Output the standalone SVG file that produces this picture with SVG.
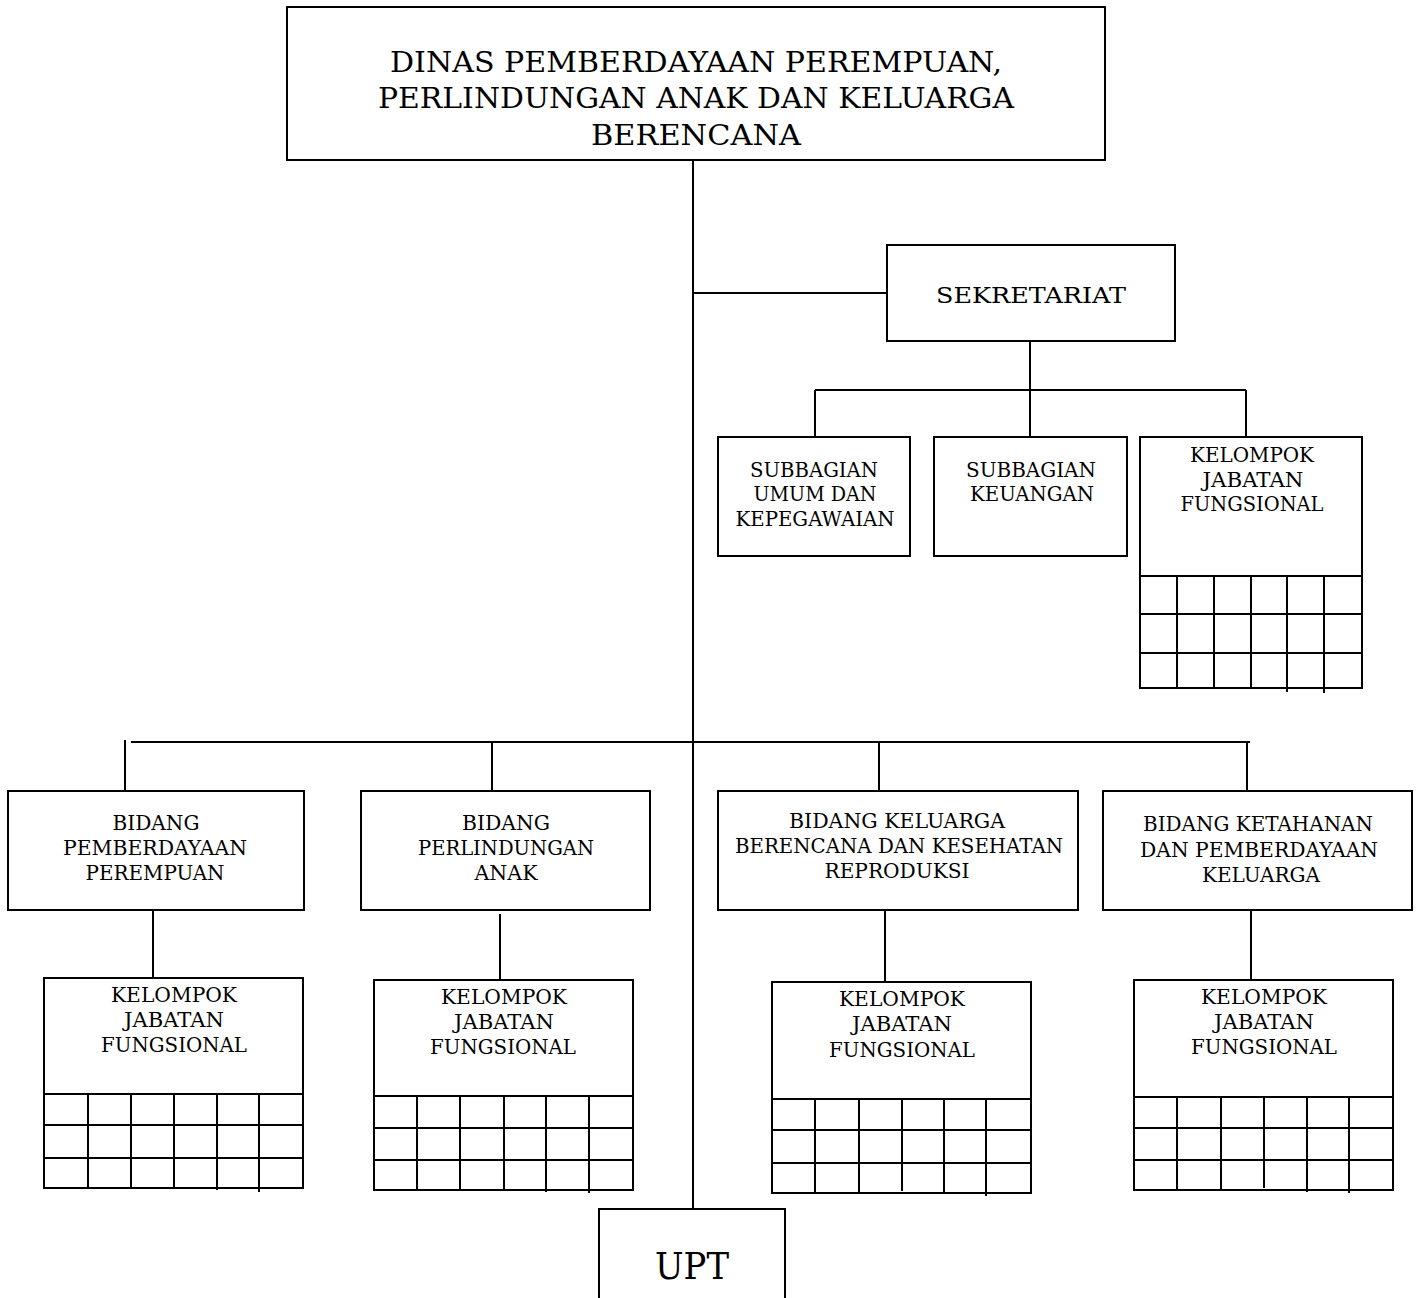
<svg xmlns="http://www.w3.org/2000/svg" width="1426" height="1298" viewBox="0 0 1426 1298">
  <style>
    .box { fill: #fff; stroke: #000; stroke-width: 2; }
    .ln { fill: none; stroke: #000; stroke-width: 2; }
    .grid { fill: none; stroke: #000; stroke-width: 2; }
    text { font-family: "DejaVu Serif", "Liberation Serif", serif; fill: #000; text-anchor: middle; }
    .t1 { font-size: 27px; }
    .t2 { font-size: 22px; }
    .t3 { font-size: 20px; }
    .t4 { font-size: 38px; }
  </style>
  <rect width="1426" height="1298" fill="#fff"/>

  <!-- connectors -->
  <g id="connectors" class="ln">
    <path d="M693 160 V1209"/>
    <path d="M693 293 H887"/>
    <path d="M1030 341 V390 M815 390 H1246 M815 390 V437 M1030 390 V437 M1246 390 V437"/>
    <path d="M131 742 H1250 M125 740 V791 M492 742 V791 M879 742 V791 M1247 742 V791"/>
    <path d="M153 910 V978 M500 914 V980 M885 910 V982 M1251 910 V980"/>
  </g>

  <!-- head office -->
  <g id="dinas">
    <rect class="box" x="287" y="7" width="818" height="153"/>
    <text class="t1" x="696" y="72" textLength="612" lengthAdjust="spacingAndGlyphs">DINAS PEMBERDAYAAN PEREMPUAN,</text>
    <text class="t1" x="696" y="108" textLength="636" lengthAdjust="spacingAndGlyphs">PERLINDUNGAN ANAK DAN KELUARGA</text>
    <text class="t1" x="696" y="145" textLength="210" lengthAdjust="spacingAndGlyphs">BERENCANA</text>
  </g>

  <g id="sekretariat">
    <rect class="box" x="887" y="245" width="288" height="96"/>
    <text class="t2" x="1031" y="303" textLength="190" lengthAdjust="spacingAndGlyphs">SEKRETARIAT</text>
  </g>

  <g id="subbagian-umum">
    <rect class="box" x="718" y="437" width="192" height="119"/>
    <text class="t3" x="814" y="477" textLength="128" lengthAdjust="spacingAndGlyphs">SUBBAGIAN</text>
    <text class="t3" x="815" y="501" textLength="123" lengthAdjust="spacingAndGlyphs">UMUM DAN</text>
    <text class="t3" x="815" y="526" textLength="159" lengthAdjust="spacingAndGlyphs">KEPEGAWAIAN</text>
  </g>

  <g id="subbagian-keuangan">
    <rect class="box" x="934" y="437" width="193" height="119"/>
    <text class="t3" x="1031" y="477" textLength="130" lengthAdjust="spacingAndGlyphs">SUBBAGIAN</text>
    <text class="t3" x="1032" y="501" textLength="124" lengthAdjust="spacingAndGlyphs">KEUANGAN</text>
  </g>

  <g id="jabfung-sekretariat">
    <rect class="box" x="1140" y="437" width="222" height="251"/>
    <path class="grid" d="M1140 576 H1362 M1140 614 H1362 M1140 653 H1362 M1177 576 V688 M1214 576 V688 M1251 576 V687 M1287 576 V692 M1324 576 V693"/>
    <text class="t3" x="1252" y="462" textLength="124" lengthAdjust="spacingAndGlyphs">KELOMPOK</text>
    <text class="t3" x="1253" y="487" textLength="101" lengthAdjust="spacingAndGlyphs">JABATAN</text>
    <text class="t3" x="1252" y="511" textLength="143" lengthAdjust="spacingAndGlyphs">FUNGSIONAL</text>
  </g>

  <!-- bidang -->
  <g id="bidang-pp">
    <rect class="box" x="8" y="791" width="296" height="119"/>
    <text class="t3" x="156" y="830" textLength="87" lengthAdjust="spacingAndGlyphs">BIDANG</text>
    <text class="t3" x="155" y="855" textLength="184" lengthAdjust="spacingAndGlyphs">PEMBERDAYAAN</text>
    <text class="t3" x="155" y="880" textLength="139" lengthAdjust="spacingAndGlyphs">PEREMPUAN</text>
  </g>

  <g id="bidang-pa">
    <rect class="box" x="361" y="791" width="289" height="119"/>
    <text class="t3" x="506" y="830" textLength="88" lengthAdjust="spacingAndGlyphs">BIDANG</text>
    <text class="t3" x="506" y="855" textLength="176" lengthAdjust="spacingAndGlyphs">PERLINDUNGAN</text>
    <text class="t3" x="506" y="880" textLength="63" lengthAdjust="spacingAndGlyphs">ANAK</text>
  </g>

  <g id="bidang-kb">
    <rect class="box" x="718" y="791" width="360" height="119"/>
    <text class="t3" x="897" y="828" textLength="216" lengthAdjust="spacingAndGlyphs">BIDANG KELUARGA</text>
    <text class="t3" x="899" y="853" textLength="328" lengthAdjust="spacingAndGlyphs">BERENCANA DAN KESEHATAN</text>
    <text class="t3" x="897" y="878" textLength="145" lengthAdjust="spacingAndGlyphs">REPRODUKSI</text>
  </g>

  <g id="bidang-kpk">
    <rect class="box" x="1103" y="791" width="309" height="119"/>
    <text class="t3" x="1258" y="831" textLength="230" lengthAdjust="spacingAndGlyphs">BIDANG KETAHANAN</text>
    <text class="t3" x="1259" y="857" textLength="238" lengthAdjust="spacingAndGlyphs">DAN PEMBERDAYAAN</text>
    <text class="t3" x="1261" y="882" textLength="118" lengthAdjust="spacingAndGlyphs">KELUARGA</text>
  </g>

  <!-- functional groups under each bidang -->
  <g id="jabfung-pp">
    <rect class="box" x="44" y="978" width="259" height="210"/>
    <path class="grid" d="M44 1094 H303 M44 1125 H303 M44 1158 H303 M88 1094 V1188 M131 1094 V1188 M174 1094 V1188 M217 1094 V1190 M259 1094 V1192"/>
    <text class="t3" x="174" y="1002" textLength="126" lengthAdjust="spacingAndGlyphs">KELOMPOK</text>
    <text class="t3" x="174" y="1027" textLength="100" lengthAdjust="spacingAndGlyphs">JABATAN</text>
    <text class="t3" x="174" y="1052" textLength="146" lengthAdjust="spacingAndGlyphs">FUNGSIONAL</text>
  </g>

  <g id="jabfung-pa">
    <rect class="box" x="374" y="980" width="259" height="210"/>
    <path class="grid" d="M374 1096 H633 M374 1128 H633 M374 1160 H633 M417 1096 V1190 M460 1096 V1190 M504 1096 V1190 M546 1096 V1192 M589 1096 V1193"/>
    <text class="t3" x="504" y="1004" textLength="126" lengthAdjust="spacingAndGlyphs">KELOMPOK</text>
    <text class="t3" x="504" y="1029" textLength="100" lengthAdjust="spacingAndGlyphs">JABATAN</text>
    <text class="t3" x="503" y="1054" textLength="146" lengthAdjust="spacingAndGlyphs">FUNGSIONAL</text>
  </g>

  <g id="jabfung-kb">
    <rect class="box" x="772" y="982" width="259" height="211"/>
    <path class="grid" d="M772 1099 H1031 M772 1130 H1031 M772 1163 H1031 M815 1099 V1193 M859 1099 V1193 M902 1099 V1191 M944 1099 V1193 M986 1099 V1196"/>
    <text class="t3" x="902" y="1006" textLength="126" lengthAdjust="spacingAndGlyphs">KELOMPOK</text>
    <text class="t3" x="902" y="1031" textLength="100" lengthAdjust="spacingAndGlyphs">JABATAN</text>
    <text class="t3" x="902" y="1057" textLength="146" lengthAdjust="spacingAndGlyphs">FUNGSIONAL</text>
  </g>

  <g id="jabfung-kpk">
    <rect class="box" x="1134" y="980" width="259" height="210"/>
    <path class="grid" d="M1134 1097 H1393 M1134 1128 H1393 M1134 1160 H1393 M1177 1097 V1190 M1221 1097 V1190 M1264 1097 V1188 M1307 1097 V1192 M1349 1097 V1193"/>
    <text class="t3" x="1264" y="1004" textLength="126" lengthAdjust="spacingAndGlyphs">KELOMPOK</text>
    <text class="t3" x="1264" y="1029" textLength="100" lengthAdjust="spacingAndGlyphs">JABATAN</text>
    <text class="t3" x="1264" y="1054" textLength="146" lengthAdjust="spacingAndGlyphs">FUNGSIONAL</text>
  </g>

  <!-- technical implementation unit, cut off by the page edge -->
  <g id="upt">
    <path class="box" d="M599 1300 V1209 H785 V1300"/>
    <text class="t4" x="692" y="1279" textLength="74" lengthAdjust="spacingAndGlyphs">UPT</text>
  </g>
</svg>
